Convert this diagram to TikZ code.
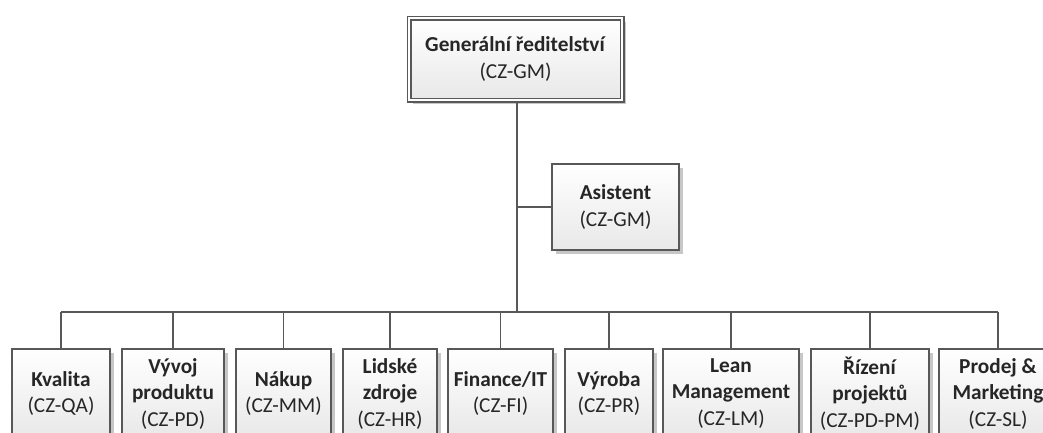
\documentclass[tikz,border=0pt]{standalone}
\usepackage{fontspec}
\setmainfont{Carlito}
\usetikzlibrary{shadows}
\definecolor{edge}{HTML}{585858}
\definecolor{ink}{HTML}{262626}
\begin{document}
\begin{tikzpicture}[x=1pt,y=1pt,
  unitbox/.style={draw=edge, line width=1.6pt, top color=white, bottom color=black!9,
    drop shadow={shadow xshift=3.5pt, shadow yshift=-3.5pt, opacity=0.22, fill=black},
    inner sep=0pt, align=center, text=ink,
    font=\fontsize{21.3}{26.5}\selectfont},
  link/.style={draw=edge, line width=1.6pt}]
\useasboundingbox (0,0) rectangle (1043,-432);

% top management
\node[unitbox, double=white, double distance=2.4pt, line width=1.3pt,
  minimum width=213pt, minimum height=82pt] (gm) at (515.5,-59)
  {\textbf{Generální ředitelství}\\(CZ-GM)};

% assistant
\node[unitbox, minimum width=127pt, minimum height=86pt] (as) at (615.5,-207)
  {\textbf{Asistent}\\(CZ-GM)};

% departments
\tikzset{dept/.style={unitbox, minimum height=89pt}}
\node[dept, minimum width=98pt]  (qa) at (61,-393.5)   {\textbf{Kvalita}\\(CZ-QA)};
\node[dept, minimum width=102pt] (pd) at (173,-393.5)  {\textbf{Vývoj}\\\textbf{produktu}\\(CZ-PD)};
\node[dept, minimum width=95pt]  (mm) at (283.5,-393.5){\textbf{Nákup}\\(CZ-MM)};
\node[dept, minimum width=94pt]  (hr) at (390,-393.5)  {\textbf{Lidské}\\\textbf{zdroje}\\(CZ-HR)};
\node[dept, minimum width=105pt] (fi) at (500.5,-393.5){\textbf{Finance/IT}\\(CZ-FI)};
\node[dept, minimum width=88pt]  (pr) at (609,-393.5)  {\textbf{Výroba}\\(CZ-PR)};
\node[dept, minimum width=136pt] (lm) at (731,-393.5)  {\textbf{Lean}\\\textbf{Management}\\(CZ-LM)};
\node[dept, minimum width=118pt] (pm) at (870,-393.5)  {\textbf{Řízení}\\\textbf{projektů}\\(CZ-PD-PM)};
\node[dept, minimum width=118pt] (sl) at (998,-393.5)  {\textbf{Prodej \&}\\\textbf{Marketing}\\(CZ-SL)};

% connectors
\coordinate (bus) at (517,-312);
\path[link] (gm.south -| bus) -- (bus);
\path[link] (as.west -| bus) -- (as.west);
\path[link] (qa.north |- bus) -- (sl.north |- bus);
\foreach \d in {qa,pd,mm,hr,fi,pr,lm,pm,sl}
  \path[link] (\d.north |- bus) -- (\d.north);
\end{tikzpicture}
\end{document}
